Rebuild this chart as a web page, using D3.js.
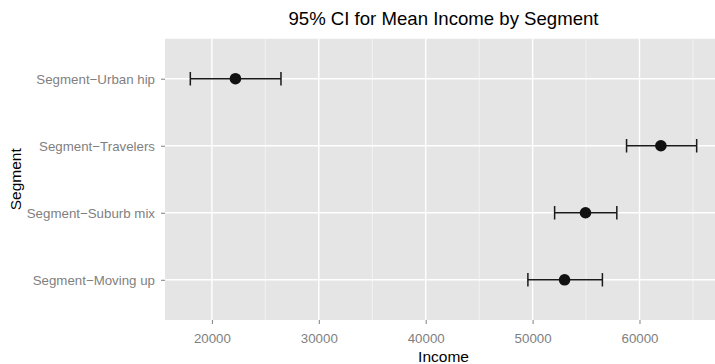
<!DOCTYPE html>
<html>
<head>
<meta charset="utf-8">
<script src="https://cdn.jsdelivr.net/npm/d3@7"></script>
<style>
  body { margin: 0; background: #fff; }
  svg { display: block; font-family: "Liberation Sans", Arial, Helvetica, sans-serif; }
  .tick_label { fill: #7f7f7f; font-size: 13.3px; }
  .axis_title { fill: #000; font-size: 15.5px; }
</style>
</head>
<body>
<svg id="chart"></svg>
<script>
// segments listed bottom to top
var segments = ["Segment\u2212Moving up", "Segment\u2212Suburb mix", "Segment\u2212Travelers", "Segment\u2212Urban hip"];
var means = [52990, 54950, 62000, 22200];
var lower = [49560, 52060, 58790, 17980];
var upper = [56530, 57880, 65350, 26460];
var majorTicks = [20000, 30000, 40000, 50000, 60000];
var minorTicks = [25000, 35000, 45000, 55000, 65000];

var width = 715, height = 364;
var panel = { left: 165, right: 722, top: 38.5, bottom: 320 };

var data = segments.map(function(s, i) {
  return { segment: s, mean: means[i], lower: lower[i], upper: upper[i] };
});

var svg = d3.select("#chart")
  .attr("width", width)
  .attr("height", height);

// ggplot style 5% expansion on the continuous axis
var lo = d3.min(lower), hi = d3.max(upper);
var pad = (hi - lo) * 0.05;

var x = d3.scaleLinear()
  .domain([lo - pad, hi + pad])
  .range([panel.left, panel.right]);

var y = d3.scalePoint()
  .domain(segments)
  .range([panel.bottom, panel.top])
  .padding(0.6);

svg.append("clipPath").attr("id", "panelClip")
  .append("rect")
  .attr("x", panel.left).attr("y", panel.top)
  .attr("width", panel.right - panel.left)
  .attr("height", panel.bottom - panel.top);

var g = svg.append("g").attr("clip-path", "url(#panelClip)");

g.append("rect")
  .attr("x", panel.left).attr("y", panel.top)
  .attr("width", panel.right - panel.left)
  .attr("height", panel.bottom - panel.top)
  .attr("fill", "#e5e5e5");

g.selectAll(".minor_x")
  .data(minorTicks)
  .enter()
  .append("line")
  .attr("class", "minor_x")
  .attr("x1", function(d){ return x(d); })
  .attr("x2", function(d){ return x(d); })
  .attr("y1", panel.top).attr("y2", panel.bottom)
  .attr("stroke", "#f4f4f4")
  .attr("stroke-width", 0.9);

g.selectAll(".major_x")
  .data(majorTicks)
  .enter()
  .append("line")
  .attr("class", "major_x")
  .attr("x1", function(d){ return x(d); })
  .attr("x2", function(d){ return x(d); })
  .attr("y1", panel.top).attr("y2", panel.bottom)
  .attr("stroke", "#fff")
  .attr("stroke-width", 1.4);

g.selectAll(".major_y")
  .data(segments)
  .enter()
  .append("line")
  .attr("class", "major_y")
  .attr("x1", panel.left).attr("x2", panel.right)
  .attr("y1", function(d){ return y(d); })
  .attr("y2", function(d){ return y(d); })
  .attr("stroke", "#fff")
  .attr("stroke-width", 1.4);

// error bars
var capHalf = y.step() * 0.1;
var bars = g.selectAll(".bar")
  .data(data)
  .enter()
  .append("g")
  .attr("class", "bar")
  .attr("stroke", "#1a1a1a")
  .attr("stroke-width", 1.5)
  .attr("fill", "none");

bars.append("line")
  .attr("x1", function(d){ return x(d.lower); })
  .attr("x2", function(d){ return x(d.upper); })
  .attr("y1", function(d){ return y(d.segment); })
  .attr("y2", function(d){ return y(d.segment); });

bars.append("line")
  .attr("x1", function(d){ return x(d.lower); })
  .attr("x2", function(d){ return x(d.lower); })
  .attr("y1", function(d){ return y(d.segment) - capHalf; })
  .attr("y2", function(d){ return y(d.segment) + capHalf; });

bars.append("line")
  .attr("x1", function(d){ return x(d.upper); })
  .attr("x2", function(d){ return x(d.upper); })
  .attr("y1", function(d){ return y(d.segment) - capHalf; })
  .attr("y2", function(d){ return y(d.segment) + capHalf; });

g.selectAll(".point")
  .data(data)
  .enter()
  .append("circle")
  .attr("class", "point")
  .attr("cx", function(d){ return x(d.mean); })
  .attr("cy", function(d){ return y(d.segment); })
  .attr("r", 5.8)
  .attr("fill", "#111");

// axes
var xAxis = svg.append("g")
  .attr("transform", "translate(0," + panel.bottom + ")")
  .call(d3.axisBottom(x).tickValues(majorTicks).tickFormat(d3.format("d")).tickSizeOuter(0).tickSize(4).tickPadding(10));

var yAxis = svg.append("g")
  .attr("transform", "translate(" + panel.left + ",0)")
  .call(d3.axisLeft(y).tickSizeOuter(0).tickSize(4).tickPadding(6));

[xAxis, yAxis].forEach(function(a) {
  a.attr("font-family", null).attr("font-size", null);
  a.select(".domain").remove();
  a.selectAll(".tick line").attr("stroke", "#7f7f7f").attr("stroke-width", 1);
  a.selectAll(".tick text")
    .attr("class", "tick_label")
    .attr("fill", null);
});
yAxis.selectAll(".tick text").attr("dy", "0.35em");

svg.append("text")
  .attr("class", "axis_title")
  .attr("x", (panel.left + panel.right) / 2)
  .attr("y", 362)
  .attr("text-anchor", "middle")
  .text("Income");

svg.append("text")
  .attr("class", "axis_title")
  .attr("transform", "translate(21," + ((panel.top + panel.bottom) / 2) + ") rotate(-90)")
  .attr("text-anchor", "middle")
  .text("Segment");

svg.append("text")
  .attr("x", (panel.left + panel.right) / 2)
  .attr("y", 25)
  .attr("text-anchor", "middle")
  .attr("fill", "#000")
  .style("font-size", "18.6px")
  .text("95% CI for Mean Income by Segment");
</script>
</body>
</html>
